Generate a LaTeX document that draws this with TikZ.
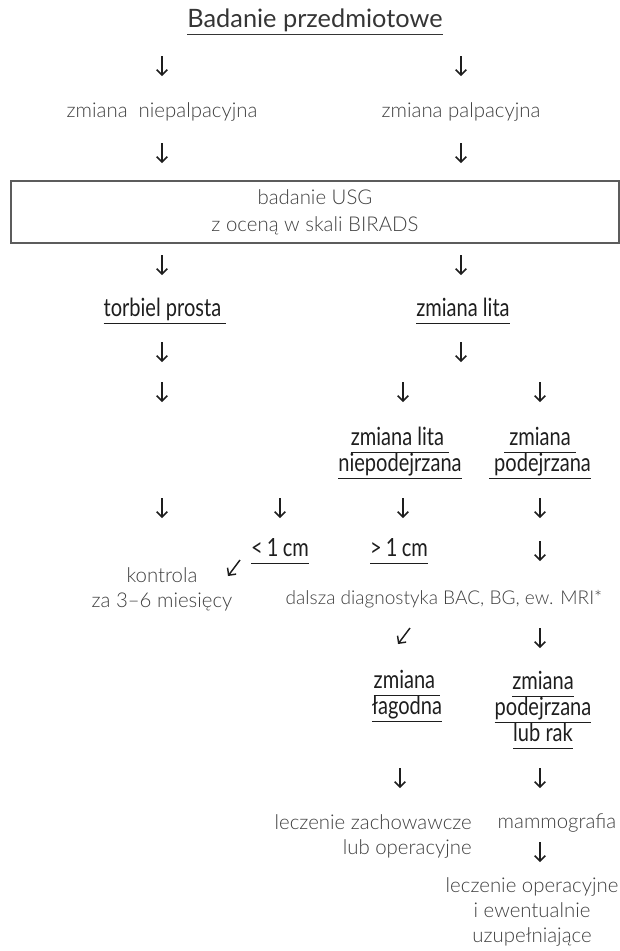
\documentclass[tikz,border=0pt]{standalone}
\usepackage{fontspec}
\setmainfont{Lato}
\newfontfamily\lightfont{Lato Light}
\newfontfamily\condfont{Lato}[FakeStretch=0.8]
\usetikzlibrary{arrows.meta}
\definecolor{txtgray}{HTML}{3F3F3F}
\definecolor{ink}{HTML}{1E1E1E}
\newcommand{\ulin}[1]{\underline{#1\vphantom{pgj}}}
\tikzset{
  plain/.style={text=txtgray, font=\lightfont\fontsize{15.3}{18.75}\selectfont, align=center, inner sep=0pt},
  key/.style={text=ink, font=\condfont\fontsize{18.8}{19.5}\selectfont, align=center, inner sep=0pt},
  dn/.style={draw=ink, line width=1.1pt, -{Straight Barb[length=4pt,width=8pt]}}
}

\begin{document}
\begin{tikzpicture}[x=0.75pt,y=-0.75pt]
\useasboundingbox (0,0) rectangle (620,951);

\node[plain, text=ink!90, font=\fontsize{19}{22}\selectfont] (t1) at (315,22) {\ulin{Badanie przedmiotowe}};
\node[plain] (t2) at (162,112) {zmiana\ \ niepalpacyjna};
\node[plain] (t3) at (461,112) {zmiana palpacyjna};
\node[plain, draw=txtgray!85, line width=1pt, minimum width=456pt, minimum height=46.5pt, font=\lightfont\fontsize{15.3}{20.25}\selectfont] (t4) at (315,212) {badanie USG\\z oceną w skali BIRADS};
\node[key] (t5) at (165,311) {\ulin{torbiel prosta\ }};
\node[key] (t6) at (463,311) {\ulin{zmiana lita}};
\node[key] (t7) at (400,453) {\ulin{zmiana lita\ }\\\ulin{niepodejrzana}};
\node[key] (t8) at (540,453) {\ulin{\ zmiana\ }\\\ulin{\ podejrzana}};
\node[key] (t9) at (280,551) {\ulin{<\,1\,cm}};
\node[key] (t10) at (399,551) {\ulin{>\,1\,cm}};
\node[plain] (t11) at (162,589) {kontrola\\za 3–6 miesięcy};
\node[plain, font=\lightfont\fontsize{14.3}{18.75}\selectfont] (t12) at (444,599) {dalsza diagnostyka BAC, BG, ew. MRI*};
\node[key] (t13) at (407,696) {\ulin{zmiana\ }\\\ulin{łagodna}};
\node[key] (t14) at (543,710) {\ulin{zmiana}\\\ulin{podejrzana}\\\ulin{lub rak}};
\node[plain, align=right, anchor=east] (t15) at (472,836) {leczenie zachowawcze\\lub operacyjne};
\node[plain] (t16) at (557,823) {mammografia};
\node[plain] (t17) at (532,912) {leczenie operacyjne\\i ewentualnie\\uzupełniające};

\coordinate (v1) at (162,56);
\coordinate (v2) at (162,76);
\coordinate (v3) at (461,56);
\coordinate (v4) at (461,76);
\coordinate (v5) at (162,143);
\coordinate (v6) at (162,163);
\coordinate (v7) at (461,143);
\coordinate (v8) at (461,163);
\coordinate (v9) at (162,255);
\coordinate (v10) at (162,275);
\coordinate (v11) at (461,255);
\coordinate (v12) at (461,275);
\coordinate (v13) at (162,342);
\coordinate (v14) at (162,362);
\coordinate (v15) at (461,342);
\coordinate (v16) at (461,362);
\coordinate (v17) at (162,382);
\coordinate (v18) at (162,402);
\coordinate (v19) at (403,382);
\coordinate (v20) at (403,402);
\coordinate (v21) at (540,382);
\coordinate (v22) at (540,402);
\coordinate (v23) at (162,498);
\coordinate (v24) at (162,518);
\coordinate (v25) at (280,498);
\coordinate (v26) at (280,518);
\coordinate (v27) at (403,498);
\coordinate (v28) at (403,518);
\coordinate (v29) at (540,498);
\coordinate (v30) at (540,518);
\coordinate (v31) at (540,541);
\coordinate (v32) at (540,561);
\coordinate (v33) at (240,560);
\coordinate (v34) at (228,576);
\coordinate (v35) at (410,628);
\coordinate (v36) at (398,644);
\coordinate (v37) at (540,628);
\coordinate (v38) at (540,648);
\coordinate (v39) at (400,768);
\coordinate (v40) at (400,788);
\coordinate (v41) at (540,768);
\coordinate (v42) at (540,788);
\coordinate (v43) at (540,842);
\coordinate (v44) at (540,862);
\draw [dn] (v1) -- (v2);
\draw [dn] (v3) -- (v4);
\draw [dn] (v5) -- (v6);
\draw [dn] (v7) -- (v8);
\draw [dn] (v9) -- (v10);
\draw [dn] (v11) -- (v12);
\draw [dn] (v13) -- (v14);
\draw [dn] (v15) -- (v16);
\draw [dn] (v17) -- (v18);
\draw [dn] (v19) -- (v20);
\draw [dn] (v21) -- (v22);
\draw [dn] (v23) -- (v24);
\draw [dn] (v25) -- (v26);
\draw [dn] (v27) -- (v28);
\draw [dn] (v29) -- (v30);
\draw [dn] (v31) -- (v32);
\draw [dn] (v33) -- (v34);
\draw [dn] (v35) -- (v36);
\draw [dn] (v37) -- (v38);
\draw [dn] (v39) -- (v40);
\draw [dn] (v41) -- (v42);
\draw [dn] (v43) -- (v44);
\end{tikzpicture}
\end{document}
